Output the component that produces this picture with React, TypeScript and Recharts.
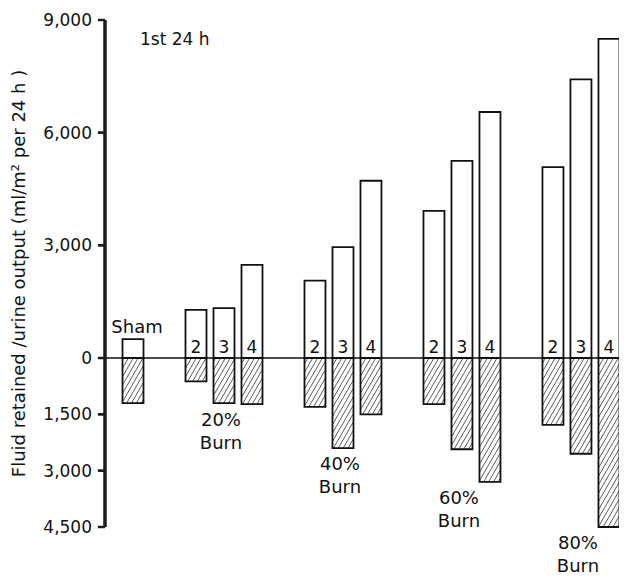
import React from 'react';
import {
  ComposedChart, Bar, Line, XAxis, YAxis, ReferenceLine, LabelList, Label,
} from 'recharts';

// Fluid retained (up) and urine output (down), ml/m² per 24 h, 1st 24 h.
const groups = ['Sham', '20%', '40%', '60%', '80%'];
const columns = ['2', '3', '4'];

const shamRetained = [500, null, null, null, null];
const shamUrine = [1200, null, null, null, null];

const retained2 = [null, 1280, 2060, 3920, 5080];
const retained3 = [null, 1330, 2950, 5250, 7420];
const retained4 = [null, 2480, 4720, 6550, 8500];

const urine2 = [null, 620, 1300, 1230, 1780];
const urine3 = [null, 1200, 2400, 2430, 2550];
const urine4 = [null, 1230, 1500, 3300, 4500];

const yTicks = [-4500, -3000, -1500, 0, 3000, 6000, 9000];

const INK = '#111';
const AXIS = '#1c1c1c';
const FONT = '"DejaVu Sans", sans-serif';

const neg = (v: number | null) => (v == null ? null : -v);

const data = groups.map((group, i) => ({
  group,
  pos: i,
  r2: retained2[i], r3: retained3[i], r4: retained4[i],
  u2: neg(urine2[i]), u3: neg(urine3[i]), u4: neg(urine4[i]),
  shamR: shamRetained[i], shamU: neg(shamUrine[i]),
  // anchor for the "xx% Burn" caption: just under the deepest bar of the group
  depth: i === 0 ? null : -Math.max(urine2[i] ?? 0, urine3[i] ?? 0, urine4[i] ?? 0),
}));

const columnLabel = (txt: string) => (p: any) => {
  if (p.value == null || !p.height) return null;
  return (
    <text x={p.x + p.width / 2} y={p.y + p.height - 5} textAnchor="middle"
      fontSize={17} fontFamily={FONT} fill={INK}>{txt}</text>
  );
};

const shamLabel = (p: any) => {
  if (p.value == null || !p.height) return null;
  return (
    <text x={p.x + p.width / 2 + 4} y={p.y - 6} textAnchor="middle"
      fontSize={18} fontFamily={FONT} fill={INK}>Sham</text>
  );
};

const burnLabel = (p: any) => {
  if (p.value == null || p.y == null || p.index === 0) return null;
  return (
    <g key={`burn-${p.index}`}>
      <text x={p.x - 3} y={p.y + 22} textAnchor="middle" fontSize={18} fontFamily={FONT} fill={INK}>
        {groups[p.index]}
      </text>
      <text x={p.x - 3} y={p.y + 45} textAnchor="middle" fontSize={18} fontFamily={FONT} fill={INK}>
        Burn
      </text>
    </g>
  );
};

export default function App() {
  const up = { fill: '#fff', stroke: INK, strokeWidth: 1.8 };
  const down = { fill: 'url(#hatch)', stroke: INK, strokeWidth: 1.8 };
  return (
    <div style={{ margin: -8, width: 627, height: 580, background: '#fff' }}>
      <ComposedChart
        width={627}
        height={580}
        data={data}
        margin={{ top: 20, right: 0, bottom: 53, left: 10 }}
        stackOffset="sign"
        barSize={21}
        barGap={7}
      >
        <defs>
          <pattern id="hatch" patternUnits="userSpaceOnUse" width="4.2" height="4.2"
            patternTransform="rotate(30)">
            <line x1="0" y1="0" x2="0" y2="4.2" stroke={INK} strokeWidth={1.2} />
          </pattern>
        </defs>
        <XAxis type="number" dataKey="pos" domain={[0, 4.387]} hide />
        <YAxis
          type="number"
          domain={[-4500, 9000]}
          ticks={yTicks}
          interval={0}
          tickFormatter={(v: number) => Math.abs(v).toLocaleString('en-US')}
          width={95}
          tickSize={7}
          tickMargin={6}
          axisLine={{ stroke: AXIS, strokeWidth: 3 }}
          tickLine={{ stroke: AXIS, strokeWidth: 2.5 }}
          tick={{ fill: INK, fontSize: 17, fontFamily: FONT }}
        >
          <Label
            value="Fluid retained /urine output (ml/m² per 24 h )"
            angle={-90}
            position="insideLeft"
            offset={9}
            style={{ textAnchor: 'middle', fill: INK, fontSize: 18, fontFamily: FONT }}
          />
        </YAxis>

        {/* axis spine and tick marks, also drawn as reference lines so they always show */}
        <ReferenceLine x={0} stroke={AXIS} strokeWidth={3} ifOverflow="visible" />
        {yTicks.map((t) => (
          <ReferenceLine key={t} segment={[{ x: -0.06, y: t }, { x: 0, y: t }]}
            stroke={AXIS} strokeWidth={2} ifOverflow="visible" />
        ))}

        <Bar dataKey="r2" stackId="2" {...up} isAnimationActive={false}>
          <LabelList dataKey="r2" content={columnLabel(columns[0])} />
        </Bar>
        <Bar dataKey="u2" stackId="2" {...down} isAnimationActive={false} />
        <Bar dataKey="r3" stackId="3" {...up} isAnimationActive={false}>
          <LabelList dataKey="r3" content={columnLabel(columns[1])} />
        </Bar>
        <Bar dataKey="u3" stackId="3" {...down} isAnimationActive={false} />
        <Bar dataKey="r4" stackId="4" {...up} isAnimationActive={false}>
          <LabelList dataKey="r4" content={columnLabel(columns[2])} />
        </Bar>
        <Bar dataKey="u4" stackId="4" {...down} isAnimationActive={false} />
        <Bar dataKey="shamR" stackId="4" {...up} isAnimationActive={false}>
          <LabelList dataKey="shamR" content={shamLabel} />
        </Bar>
        <Bar dataKey="shamU" stackId="4" {...down} isAnimationActive={false} />

        <Line dataKey="depth" stroke="none" dot={false} activeDot={false}
          isAnimationActive={false} label={burnLabel} />

        <ReferenceLine y={0} stroke={INK} strokeWidth={1.5} />

        <text x={140} y={45} fontSize={17} fontFamily={FONT} fill={INK}>1st 24 h</text>
      </ComposedChart>
    </div>
  );
}
